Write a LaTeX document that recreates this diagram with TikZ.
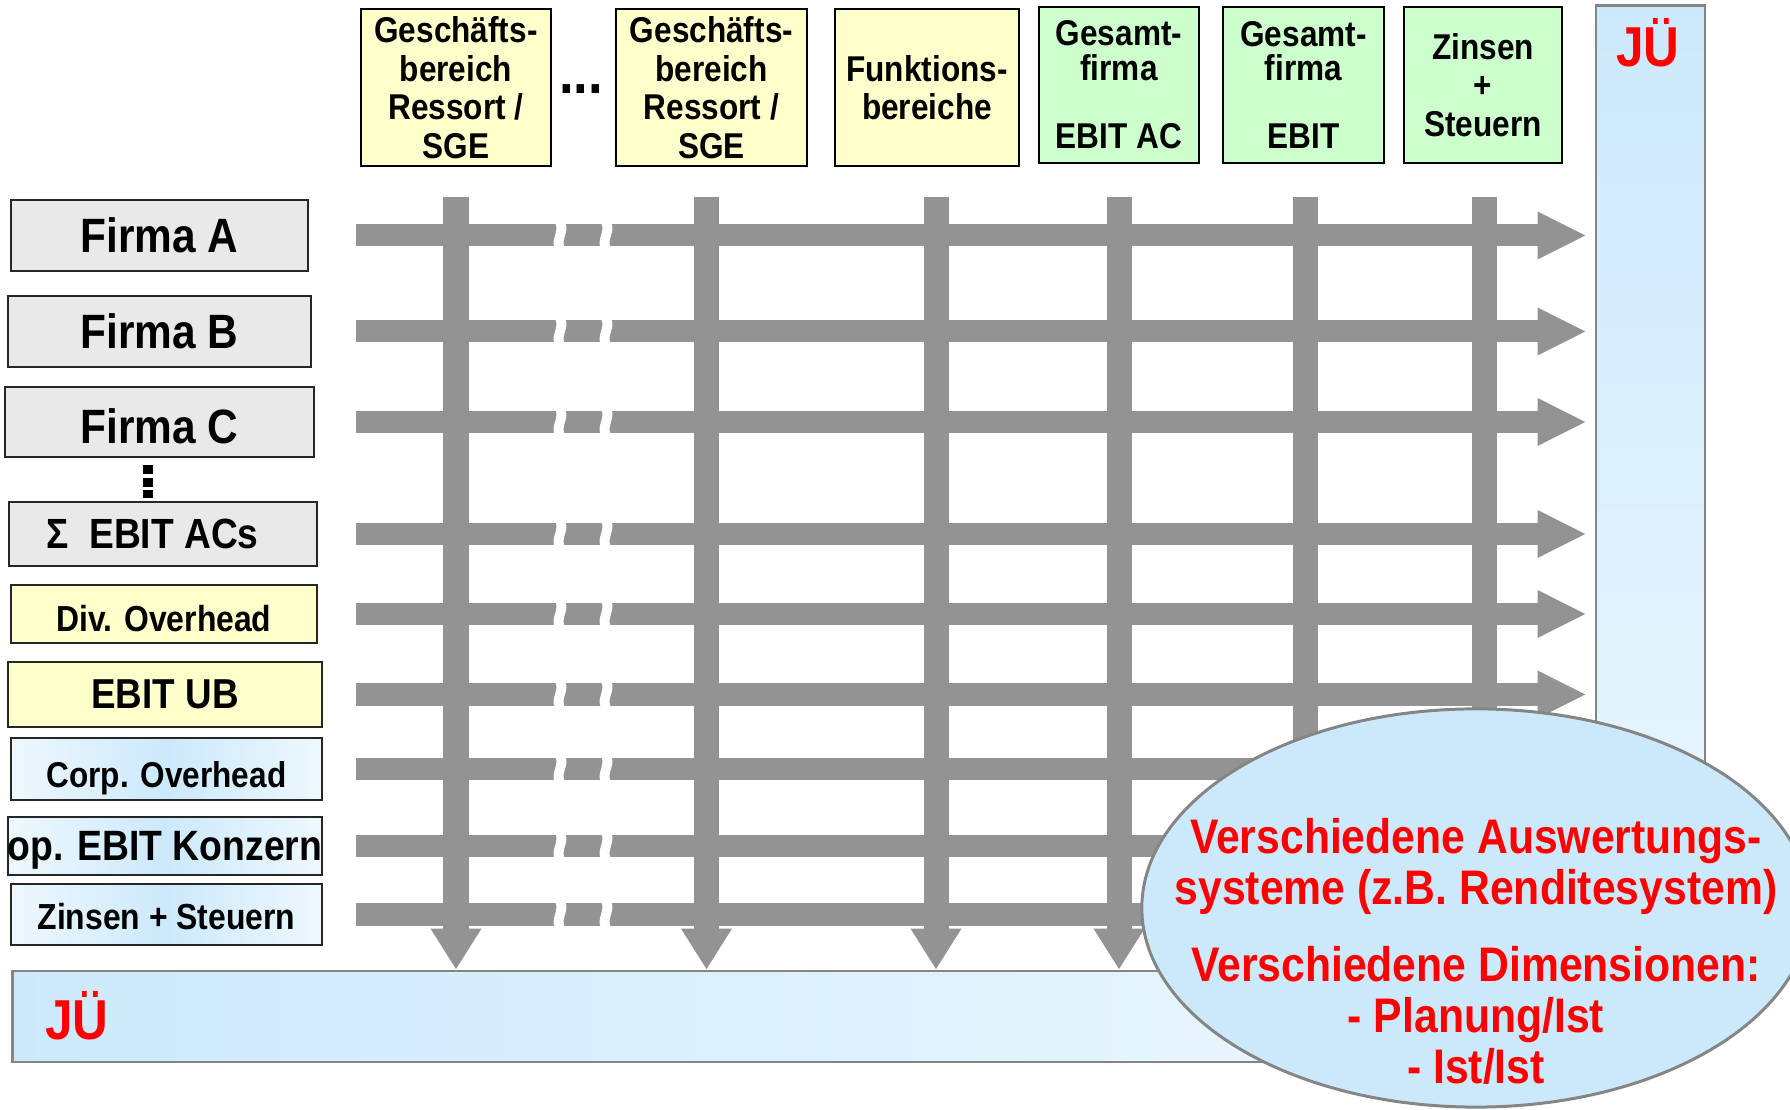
\documentclass[tikz,border=0pt]{standalone}
\usepackage{fontspec}
\setmainfont{Liberation Sans}[FakeStretch=0.88]
\usepackage{xcolor}
\usepackage{tikz}
\usetikzlibrary{positioning,calc,shapes.geometric,arrows.meta}

\definecolor{boxyellow}{HTML}{FFFFCC}
\definecolor{boxgreen}{HTML}{CCFFCC}
\definecolor{boxgray}{HTML}{E9E9E9}
\definecolor{bandblue}{HTML}{CCE9FB}
\definecolor{bandlight}{HTML}{EEF8FE}
\definecolor{flowgray}{HTML}{939393}
\definecolor{edgegray}{HTML}{858585}
\definecolor{jured}{HTML}{FF0000}

\tikzset{
	head/.style={draw=black, line width=0.5pt, align=center, inner sep=0pt, font=\bfseries\fontsize{10.2}{10.95}\selectfont},
	headY/.style={head, fill=boxyellow, minimum width=1.9cm, minimum height=1.57cm},
	headG/.style={head, fill=boxgreen, minimum width=1.6cm, minimum height=1.56cm, font=\bfseries\fontsize{10.2}{9.75}\selectfont},
	row/.style={draw=black!85, line width=0.55pt, align=center, inner sep=0pt},
	rowgray/.style={row, fill=boxgray},
	rowyellow/.style={row, fill=boxyellow},
	rowblue/.style={row, left color=bandlight, right color=bandlight, middle color=bandblue},
	band/.style={draw=edgegray, line width=0.8pt, inner sep=0pt},
	jue/.style={text=jured, font=\bfseries\fontsize{16}{18}\selectfont, anchor=base},
	hflow/.style={draw=flowgray, line width=0.22cm, -{Triangle[length=0.49cm,width=0.44cm]}, shorten >=0.08cm},
	vflow/.style={draw=flowgray, line width=0.25cm, -{Triangle[length=0.41cm,width=0.48cm]}},
	brk/.style={fill=white},
}

\begin{document}
\begin{tikzpicture}[x=0.01cm, y=-0.01cm]
	\useasboundingbox (0,0) rectangle (1790,1110);
	\clip (0,0) rectangle (1790,1110);
	\node[band, top color=bandblue, bottom color=bandlight, minimum width=1.09cm, minimum height=10.34cm] (bandR) at (1650.5,523) {};
	\node[band, left color=bandblue, right color=bandlight, minimum width=15.87cm, minimum height=0.91cm] (bandB) at (806.5,1016.5) {};
	\node[jue] (jueR) at (1648,67) {JÜ};
	\node[jue] (jueB) at (77,1040) {JÜ};

	\node[headY] (gbA) at (456,87.5) {Geschäfts-\\bereich\\Ressort /\\SGE};
	\node[headY, minimum width=1.91cm] (gbB) at (711.5,87.5) {Geschäfts-\\bereich\\Ressort /\\SGE};
	\node[headY, minimum width=1.84cm] (funk) at (927,87.5) {Funktions-\\bereiche};
	\node[headG] (gesAC) at (1119,85) {Gesamt-\\firma\\[9.75pt]EBIT AC};
	\node[headG, minimum width=1.61cm] (gesEBIT) at (1303.5,85) {Gesamt-\\firma\\[9.75pt]EBIT};
	\node[headG, minimum width=1.58cm, font=\bfseries\fontsize{10.2}{10.95}\selectfont] (zinsH) at (1483,85) {Zinsen\\+\\Steuern};
	\node[anchor=base, font=\bfseries\fontsize{17}{18}\selectfont] (dotsH) at (581,94) {...};

	\node[rowgray, minimum width=2.97cm, minimum height=0.71cm, font=\bfseries\fontsize{13.7}{15}\selectfont] (firmaA) at (159.5,235.5) {Firma A};
	\node[rowgray, minimum width=3.03cm, minimum height=0.71cm, font=\bfseries\fontsize{13.7}{15}\selectfont] (firmaB) at (159.5,331.5) {Firma B};
	\node[rowgray, minimum width=3.09cm, minimum height=0.70cm, text height=12.4pt, text depth=0pt, font=\bfseries\fontsize{13.7}{15}\selectfont] (firmaC) at (159.5,422) {Firma C};
	\node[rowgray, minimum width=3.08cm, minimum height=0.64cm, font=\bfseries\fontsize{12}{14}\selectfont] (sumAC) at (163,534) {Σ~~EBIT ACs\hspace{6pt}};
	\node[rowyellow, minimum width=3.06cm, minimum height=0.58cm, text height=9.7pt, text depth=0pt, font=\bfseries\fontsize{10.3}{12}\selectfont] (divOH) at (164,614) {Div. Overhead};
	\node[rowyellow, minimum width=3.13cm, minimum height=0.65cm, font=\bfseries\fontsize{11.9}{14}\selectfont] (ebitUB) at (165,694.5) {EBIT UB};
	\node[rowblue, minimum width=3.11cm, minimum height=0.62cm, text height=12.5pt, text depth=2.1pt, font=\bfseries\fontsize{10.2}{12}\selectfont] (corpOH) at (166.5,769) {Corp. Overhead};
	\node[rowblue, minimum width=3.13cm, minimum height=0.58cm, text height=10.5pt, text depth=2.5pt, font=\bfseries\fontsize{12.06}{14}\selectfont] (opEBIT) at (165,846) {op. EBIT Konzern};
	\node[rowblue, minimum width=3.11cm, minimum height=0.61cm, text height=8.5pt, text depth=0pt, font=\bfseries\fontsize{10.3}{12}\selectfont] (zinsL) at (166.5,914.5) {Zinsen + Steuern};
	\draw[black, line width=0.09cm, dash pattern=on 0.095cm off 0.03cm] (148,465) -- (148,498);

	\coordinate (hstart) at (356,0);
	\coordinate (gapL) at (555,0);
	\coordinate (gapR) at (601,0);
	\coordinate (vstart) at (0,197);
	\foreach \r in {firmaA,firmaB,firmaC,sumAC,divOH,ebitUB,corpOH,opEBIT,zinsL}{
		\draw[hflow] (hstart |- \r) -- (bandR.west |- \r);
		\fill[brk] (gapL |- \r) ++(0,-13) .. controls +(5,9) and +(-5,-9) .. ++(0,26) -- ++(10,0) .. controls +(-5,-9) and +(5,9) .. ++(0,-26) -- cycle;
		\fill[brk] (gapR |- \r) ++(0,-13) .. controls +(5,9) and +(-5,-9) .. ++(0,26) -- ++(10,0) .. controls +(-5,-9) and +(5,9) .. ++(0,-26) -- cycle;
	}
	\foreach \c/\dx in {gbA/0,gbB/-5,funk/9,gesAC/0,gesEBIT/2,zinsH/1}
		\draw[vflow] ($(\c |- vstart)+(\dx,0)$) -- ($(\c |- bandB.north)+(\dx,0)$);

	\node[ellipse, draw=edgegray, line width=0.85pt, fill=bandblue, minimum width=6.68cm, minimum height=3.98cm, inner sep=0pt] (bubble) at (1476,908) {};
	\node[text=jured, align=center, font=\bfseries\fontsize{13.8}{14.5}\selectfont] (bubbleTxt) at (1476,951) {Verschiedene Auswertungs-\\systeme (z.B. Renditesystem)\\[7.4pt]Verschiedene Dimensionen:\\- Planung/Ist\\- Ist/Ist};
\end{tikzpicture}
\end{document}
